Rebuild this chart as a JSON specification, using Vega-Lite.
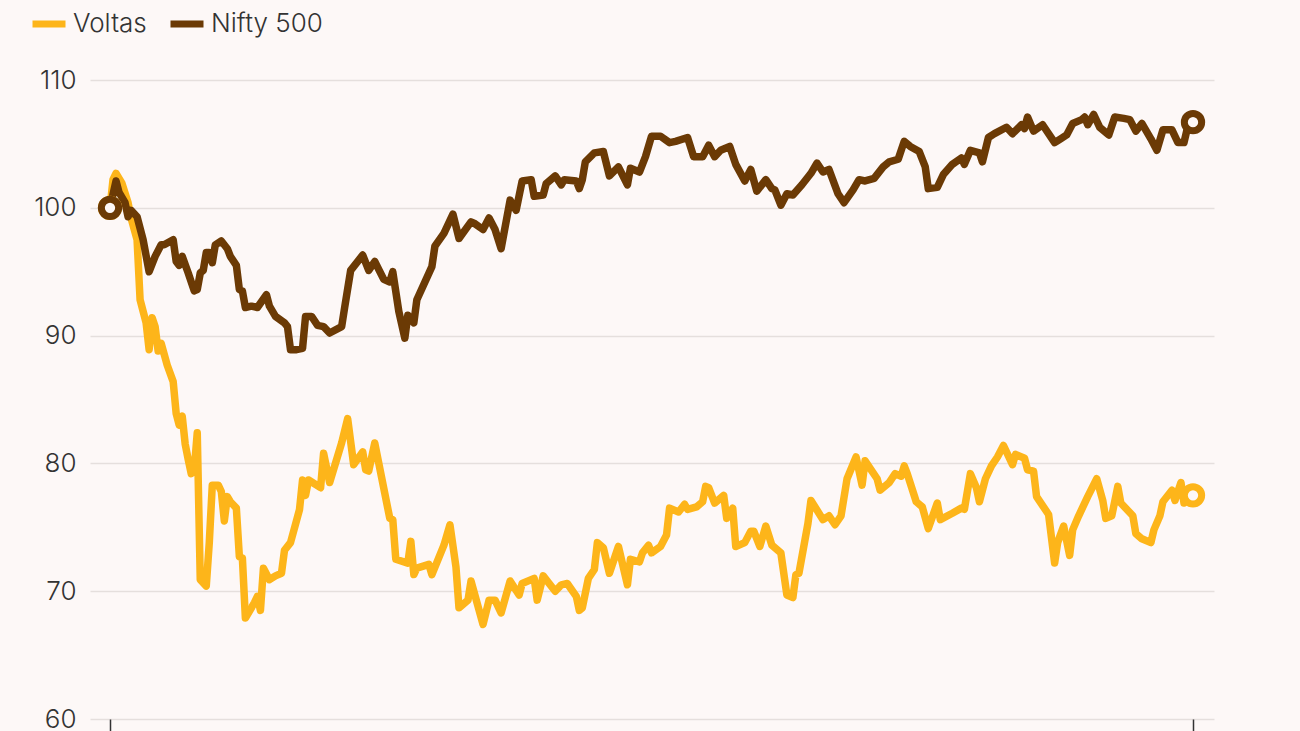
{
  "$schema": "https://vega.github.io/schema/vega-lite/v6.json",
  "autosize": "none",
  "width": 1124,
  "height": 639,
  "padding": {"left": 90, "top": 80, "right": 86, "bottom": 12},
  "background": "#fdf8f7",
  "config": {"view": {"stroke": null}, "font": "Inter"},
  "datasets": {
    "series": [
      {"series":"Voltas","day":0,"value":100},{"series":"Voltas","day":1,"value":102.2},{"series":"Voltas","day":2,"value":102.7},{"series":"Voltas","day":4,"value":101.9},{"series":"Voltas","day":6,"value":100.4},{"series":"Voltas","day":7,"value":99.2},{"series":"Voltas","day":9,"value":97.5},{"series":"Voltas","day":10,"value":92.8},{"series":"Voltas","day":12,"value":91.0},{"series":"Voltas","day":13,"value":88.9},{"series":"Voltas","day":14,"value":91.4},{"series":"Voltas","day":15,"value":90.7},{"series":"Voltas","day":16,"value":88.8},{"series":"Voltas","day":17,"value":89.4},{"series":"Voltas","day":19,"value":87.7},{"series":"Voltas","day":21,"value":86.4},{"series":"Voltas","day":22,"value":83.9},{"series":"Voltas","day":23,"value":83.0},{"series":"Voltas","day":24,"value":83.7},{"series":"Voltas","day":25,"value":81.5},{"series":"Voltas","day":26,"value":80.3},{"series":"Voltas","day":27,"value":79.2},{"series":"Voltas","day":28,"value":79.5},{"series":"Voltas","day":29,"value":82.4},{"series":"Voltas","day":30,"value":70.9},{"series":"Voltas","day":32,"value":70.4},{"series":"Voltas","day":33,"value":73.8},{"series":"Voltas","day":34,"value":78.3},{"series":"Voltas","day":36,"value":78.3},{"series":"Voltas","day":37,"value":77.8},{"series":"Voltas","day":38,"value":75.5},{"series":"Voltas","day":39,"value":77.4},{"series":"Voltas","day":40,"value":77.0},{"series":"Voltas","day":42,"value":76.5},{"series":"Voltas","day":43,"value":72.7},{"series":"Voltas","day":44,"value":72.6},{"series":"Voltas","day":45,"value":67.9},{"series":"Voltas","day":48,"value":69.1},{"series":"Voltas","day":49,"value":69.6},{"series":"Voltas","day":50,"value":68.5},{"series":"Voltas","day":51,"value":71.8},{"series":"Voltas","day":53,"value":70.9},{"series":"Voltas","day":55,"value":71.2},{"series":"Voltas","day":57,"value":71.4},{"series":"Voltas","day":58,"value":73.2},{"series":"Voltas","day":60,"value":73.8},{"series":"Voltas","day":63,"value":76.4},{"series":"Voltas","day":64,"value":78.7},{"series":"Voltas","day":65,"value":77.5},{"series":"Voltas","day":66,"value":78.7},{"series":"Voltas","day":70,"value":78.1},{"series":"Voltas","day":71,"value":80.8},{"series":"Voltas","day":73,"value":78.5},{"series":"Voltas","day":77,"value":81.6},{"series":"Voltas","day":79,"value":83.5},{"series":"Voltas","day":81,"value":79.9},{"series":"Voltas","day":84,"value":80.9},{"series":"Voltas","day":85,"value":79.5},{"series":"Voltas","day":86,"value":79.4},{"series":"Voltas","day":88,"value":81.6},{"series":"Voltas","day":93,"value":75.7},{"series":"Voltas","day":94,"value":75.6},{"series":"Voltas","day":95,"value":72.5},{"series":"Voltas","day":99,"value":72.2},{"series":"Voltas","day":100,"value":73.9},{"series":"Voltas","day":101,"value":71.3},{"series":"Voltas","day":102,"value":71.8},{"series":"Voltas","day":106,"value":72.1},{"series":"Voltas","day":107,"value":71.3},{"series":"Voltas","day":111,"value":73.6},{"series":"Voltas","day":113,"value":75.2},{"series":"Voltas","day":115,"value":71.9},{"series":"Voltas","day":116,"value":68.7},{"series":"Voltas","day":119,"value":69.3},{"series":"Voltas","day":120,"value":70.8},{"series":"Voltas","day":124,"value":67.4},{"series":"Voltas","day":126,"value":69.3},{"series":"Voltas","day":128,"value":69.3},{"series":"Voltas","day":130,"value":68.3},{"series":"Voltas","day":133,"value":70.8},{"series":"Voltas","day":136,"value":69.7},{"series":"Voltas","day":137,"value":70.6},{"series":"Voltas","day":141,"value":71.0},{"series":"Voltas","day":142,"value":69.3},{"series":"Voltas","day":144,"value":71.2},{"series":"Voltas","day":148,"value":70.0},{"series":"Voltas","day":150,"value":70.5},{"series":"Voltas","day":152,"value":70.6},{"series":"Voltas","day":155,"value":69.6},{"series":"Voltas","day":156,"value":68.5},{"series":"Voltas","day":157,"value":68.7},{"series":"Voltas","day":159,"value":71.0},{"series":"Voltas","day":161,"value":71.7},{"series":"Voltas","day":162,"value":73.8},{"series":"Voltas","day":164,"value":73.4},{"series":"Voltas","day":166,"value":71.4},{"series":"Voltas","day":169,"value":73.5},{"series":"Voltas","day":172,"value":70.5},{"series":"Voltas","day":173,"value":72.5},{"series":"Voltas","day":176,"value":72.3},{"series":"Voltas","day":177,"value":73.0},{"series":"Voltas","day":179,"value":73.6},{"series":"Voltas","day":180,"value":73.0},{"series":"Voltas","day":183,"value":73.5},{"series":"Voltas","day":185,"value":74.4},{"series":"Voltas","day":186,"value":76.5},{"series":"Voltas","day":189,"value":76.2},{"series":"Voltas","day":191,"value":76.8},{"series":"Voltas","day":192,"value":76.4},{"series":"Voltas","day":195,"value":76.6},{"series":"Voltas","day":197,"value":77.0},{"series":"Voltas","day":198,"value":78.2},{"series":"Voltas","day":199,"value":78.1},{"series":"Voltas","day":201,"value":76.9},{"series":"Voltas","day":204,"value":77.5},{"series":"Voltas","day":205,"value":75.7},{"series":"Voltas","day":207,"value":76.5},{"series":"Voltas","day":208,"value":73.5},{"series":"Voltas","day":211,"value":73.8},{"series":"Voltas","day":213,"value":74.7},{"series":"Voltas","day":214,"value":74.7},{"series":"Voltas","day":216,"value":73.5},{"series":"Voltas","day":218,"value":75.1},{"series":"Voltas","day":220,"value":73.6},{"series":"Voltas","day":223,"value":73.0},{"series":"Voltas","day":225,"value":69.7},{"series":"Voltas","day":227,"value":69.5},{"series":"Voltas","day":228,"value":71.3},{"series":"Voltas","day":229,"value":71.4},{"series":"Voltas","day":232,"value":75.3},{"series":"Voltas","day":233,"value":77.1},{"series":"Voltas","day":237,"value":75.6},{"series":"Voltas","day":239,"value":75.9},{"series":"Voltas","day":241,"value":75.2},{"series":"Voltas","day":243,"value":75.9},{"series":"Voltas","day":245,"value":78.8},{"series":"Voltas","day":248,"value":80.5},{"series":"Voltas","day":250,"value":78.3},{"series":"Voltas","day":251,"value":80.2},{"series":"Voltas","day":253,"value":79.5},{"series":"Voltas","day":255,"value":78.8},{"series":"Voltas","day":256,"value":77.9},{"series":"Voltas","day":259,"value":78.5},{"series":"Voltas","day":261,"value":79.2},{"series":"Voltas","day":263,"value":79.0},{"series":"Voltas","day":264,"value":79.8},{"series":"Voltas","day":265,"value":79.2},{"series":"Voltas","day":268,"value":77.0},{"series":"Voltas","day":270,"value":76.6},{"series":"Voltas","day":272,"value":74.9},{"series":"Voltas","day":275,"value":76.9},{"series":"Voltas","day":276,"value":75.6},{"series":"Voltas","day":280,"value":76.1},{"series":"Voltas","day":283,"value":76.5},{"series":"Voltas","day":284,"value":76.4},{"series":"Voltas","day":286,"value":79.2},{"series":"Voltas","day":288,"value":78.1},{"series":"Voltas","day":289,"value":77.0},{"series":"Voltas","day":291,"value":78.8},{"series":"Voltas","day":293,"value":79.8},{"series":"Voltas","day":295,"value":80.5},{"series":"Voltas","day":297,"value":81.4},{"series":"Voltas","day":300,"value":79.9},{"series":"Voltas","day":301,"value":80.7},{"series":"Voltas","day":304,"value":80.4},{"series":"Voltas","day":305,"value":79.5},{"series":"Voltas","day":307,"value":79.4},{"series":"Voltas","day":308,"value":77.4},{"series":"Voltas","day":312,"value":76.0},{"series":"Voltas","day":314,"value":72.2},{"series":"Voltas","day":315,"value":73.8},{"series":"Voltas","day":317,"value":75.1},{"series":"Voltas","day":319,"value":72.8},{"series":"Voltas","day":320,"value":74.8},{"series":"Voltas","day":322,"value":75.9},{"series":"Voltas","day":325,"value":77.4},{"series":"Voltas","day":328,"value":78.8},{"series":"Voltas","day":330,"value":77.1},{"series":"Voltas","day":331,"value":75.7},{"series":"Voltas","day":333,"value":75.9},{"series":"Voltas","day":335,"value":78.2},{"series":"Voltas","day":336,"value":76.9},{"series":"Voltas","day":340,"value":75.9},{"series":"Voltas","day":341,"value":74.5},{"series":"Voltas","day":343,"value":74.1},{"series":"Voltas","day":346,"value":73.8},{"series":"Voltas","day":347,"value":74.8},{"series":"Voltas","day":349,"value":75.9},{"series":"Voltas","day":350,"value":77.0},{"series":"Voltas","day":353,"value":77.9},{"series":"Voltas","day":354,"value":77.1},{"series":"Voltas","day":356,"value":78.5},{"series":"Voltas","day":357,"value":76.9},{"series":"Voltas","day":360,"value":77.5},
      {"series":"Nifty 500","day":0,"value":100},{"series":"Nifty 500","day":2,"value":102.1},{"series":"Nifty 500","day":3,"value":101.2},{"series":"Nifty 500","day":5,"value":100.4},{"series":"Nifty 500","day":6,"value":99.3},{"series":"Nifty 500","day":7,"value":99.8},{"series":"Nifty 500","day":9,"value":99.3},{"series":"Nifty 500","day":11,"value":97.5},{"series":"Nifty 500","day":13,"value":95.0},{"series":"Nifty 500","day":15,"value":96.2},{"series":"Nifty 500","day":17,"value":97.1},{"series":"Nifty 500","day":18,"value":97.1},{"series":"Nifty 500","day":21,"value":97.5},{"series":"Nifty 500","day":22,"value":95.8},{"series":"Nifty 500","day":23,"value":95.5},{"series":"Nifty 500","day":24,"value":96.2},{"series":"Nifty 500","day":26,"value":94.9},{"series":"Nifty 500","day":28,"value":93.5},{"series":"Nifty 500","day":29,"value":93.6},{"series":"Nifty 500","day":30,"value":94.9},{"series":"Nifty 500","day":31,"value":95.1},{"series":"Nifty 500","day":32,"value":96.5},{"series":"Nifty 500","day":33,"value":96.5},{"series":"Nifty 500","day":34,"value":95.7},{"series":"Nifty 500","day":35,"value":97.1},{"series":"Nifty 500","day":37,"value":97.4},{"series":"Nifty 500","day":39,"value":96.8},{"series":"Nifty 500","day":40,"value":96.2},{"series":"Nifty 500","day":42,"value":95.5},{"series":"Nifty 500","day":43,"value":93.6},{"series":"Nifty 500","day":44,"value":93.5},{"series":"Nifty 500","day":45,"value":92.2},{"series":"Nifty 500","day":47,"value":92.3},{"series":"Nifty 500","day":49,"value":92.2},{"series":"Nifty 500","day":52,"value":93.2},{"series":"Nifty 500","day":53,"value":92.3},{"series":"Nifty 500","day":55,"value":91.5},{"series":"Nifty 500","day":58,"value":91.0},{"series":"Nifty 500","day":59,"value":90.7},{"series":"Nifty 500","day":60,"value":88.9},{"series":"Nifty 500","day":62,"value":88.9},{"series":"Nifty 500","day":64,"value":89.0},{"series":"Nifty 500","day":65,"value":91.5},{"series":"Nifty 500","day":67,"value":91.5},{"series":"Nifty 500","day":69,"value":90.8},{"series":"Nifty 500","day":71,"value":90.7},{"series":"Nifty 500","day":73,"value":90.2},{"series":"Nifty 500","day":77,"value":90.7},{"series":"Nifty 500","day":78,"value":92.2},{"series":"Nifty 500","day":80,"value":95.1},{"series":"Nifty 500","day":84,"value":96.3},{"series":"Nifty 500","day":86,"value":95.1},{"series":"Nifty 500","day":88,"value":95.8},{"series":"Nifty 500","day":91,"value":94.4},{"series":"Nifty 500","day":93,"value":94.2},{"series":"Nifty 500","day":94,"value":95.0},{"series":"Nifty 500","day":96,"value":91.9},{"series":"Nifty 500","day":98,"value":89.8},{"series":"Nifty 500","day":99,"value":91.6},{"series":"Nifty 500","day":101,"value":91.0},{"series":"Nifty 500","day":102,"value":92.8},{"series":"Nifty 500","day":107,"value":95.4},{"series":"Nifty 500","day":108,"value":97.0},{"series":"Nifty 500","day":111,"value":98.0},{"series":"Nifty 500","day":114,"value":99.5},{"series":"Nifty 500","day":116,"value":97.6},{"series":"Nifty 500","day":120,"value":98.9},{"series":"Nifty 500","day":121,"value":98.8},{"series":"Nifty 500","day":124,"value":98.3},{"series":"Nifty 500","day":126,"value":99.2},{"series":"Nifty 500","day":128,"value":98.3},{"series":"Nifty 500","day":130,"value":96.8},{"series":"Nifty 500","day":133,"value":100.6},{"series":"Nifty 500","day":135,"value":99.8},{"series":"Nifty 500","day":137,"value":102.1},{"series":"Nifty 500","day":140,"value":102.2},{"series":"Nifty 500","day":141,"value":100.9},{"series":"Nifty 500","day":144,"value":101.0},{"series":"Nifty 500","day":145,"value":101.9},{"series":"Nifty 500","day":148,"value":102.5},{"series":"Nifty 500","day":150,"value":101.8},{"series":"Nifty 500","day":151,"value":102.2},{"series":"Nifty 500","day":155,"value":102.1},{"series":"Nifty 500","day":156,"value":101.5},{"series":"Nifty 500","day":157,"value":102.2},{"series":"Nifty 500","day":158,"value":103.6},{"series":"Nifty 500","day":161,"value":104.3},{"series":"Nifty 500","day":164,"value":104.4},{"series":"Nifty 500","day":166,"value":102.5},{"series":"Nifty 500","day":169,"value":103.2},{"series":"Nifty 500","day":172,"value":101.8},{"series":"Nifty 500","day":173,"value":103.1},{"series":"Nifty 500","day":176,"value":102.8},{"series":"Nifty 500","day":178,"value":104.0},{"series":"Nifty 500","day":180,"value":105.6},{"series":"Nifty 500","day":183,"value":105.6},{"series":"Nifty 500","day":186,"value":105.1},{"series":"Nifty 500","day":188,"value":105.2},{"series":"Nifty 500","day":192,"value":105.5},{"series":"Nifty 500","day":194,"value":104.0},{"series":"Nifty 500","day":197,"value":104.0},{"series":"Nifty 500","day":199,"value":104.9},{"series":"Nifty 500","day":201,"value":104.0},{"series":"Nifty 500","day":203,"value":104.5},{"series":"Nifty 500","day":206,"value":104.8},{"series":"Nifty 500","day":208,"value":103.4},{"series":"Nifty 500","day":211,"value":102.1},{"series":"Nifty 500","day":213,"value":103.0},{"series":"Nifty 500","day":215,"value":101.3},{"series":"Nifty 500","day":218,"value":102.2},{"series":"Nifty 500","day":220,"value":101.5},{"series":"Nifty 500","day":221,"value":101.4},{"series":"Nifty 500","day":223,"value":100.2},{"series":"Nifty 500","day":225,"value":101.1},{"series":"Nifty 500","day":227,"value":101.0},{"series":"Nifty 500","day":230,"value":101.8},{"series":"Nifty 500","day":233,"value":102.7},{"series":"Nifty 500","day":235,"value":103.5},{"series":"Nifty 500","day":237,"value":102.8},{"series":"Nifty 500","day":239,"value":103.0},{"series":"Nifty 500","day":242,"value":101.1},{"series":"Nifty 500","day":244,"value":100.4},{"series":"Nifty 500","day":247,"value":101.4},{"series":"Nifty 500","day":249,"value":102.2},{"series":"Nifty 500","day":251,"value":102.1},{"series":"Nifty 500","day":254,"value":102.3},{"series":"Nifty 500","day":257,"value":103.2},{"series":"Nifty 500","day":259,"value":103.6},{"series":"Nifty 500","day":262,"value":103.8},{"series":"Nifty 500","day":264,"value":105.2},{"series":"Nifty 500","day":266,"value":104.8},{"series":"Nifty 500","day":269,"value":104.4},{"series":"Nifty 500","day":271,"value":103.2},{"series":"Nifty 500","day":272,"value":101.5},{"series":"Nifty 500","day":275,"value":101.6},{"series":"Nifty 500","day":277,"value":102.6},{"series":"Nifty 500","day":280,"value":103.4},{"series":"Nifty 500","day":283,"value":103.9},{"series":"Nifty 500","day":284,"value":103.4},{"series":"Nifty 500","day":286,"value":104.5},{"series":"Nifty 500","day":289,"value":104.3},{"series":"Nifty 500","day":290,"value":103.6},{"series":"Nifty 500","day":292,"value":105.5},{"series":"Nifty 500","day":294,"value":105.8},{"series":"Nifty 500","day":298,"value":106.3},{"series":"Nifty 500","day":300,"value":105.8},{"series":"Nifty 500","day":303,"value":106.5},{"series":"Nifty 500","day":304,"value":106.2},{"series":"Nifty 500","day":305,"value":107.1},{"series":"Nifty 500","day":307,"value":106.0},{"series":"Nifty 500","day":310,"value":106.5},{"series":"Nifty 500","day":314,"value":105.1},{"series":"Nifty 500","day":316,"value":105.4},{"series":"Nifty 500","day":318,"value":105.7},{"series":"Nifty 500","day":320,"value":106.6},{"series":"Nifty 500","day":323,"value":106.9},{"series":"Nifty 500","day":324,"value":107.1},{"series":"Nifty 500","day":325,"value":106.5},{"series":"Nifty 500","day":327,"value":107.3},{"series":"Nifty 500","day":329,"value":106.3},{"series":"Nifty 500","day":332,"value":105.7},{"series":"Nifty 500","day":334,"value":107.1},{"series":"Nifty 500","day":337,"value":107.0},{"series":"Nifty 500","day":339,"value":106.9},{"series":"Nifty 500","day":341,"value":106.0},{"series":"Nifty 500","day":343,"value":106.6},{"series":"Nifty 500","day":346,"value":105.4},{"series":"Nifty 500","day":348,"value":104.5},{"series":"Nifty 500","day":350,"value":106.1},{"series":"Nifty 500","day":353,"value":106.1},{"series":"Nifty 500","day":355,"value":105.1},{"series":"Nifty 500","day":357,"value":105.1},{"series":"Nifty 500","day":358,"value":106.1},{"series":"Nifty 500","day":360,"value":106.7}
    ]
  },
  "data": {"name": "series"},
  "encoding": {
    "x": {
      "field": "day", "type": "quantitative",
      "scale": {"domain": [-6.65, 366.98], "nice": false, "zero": false},
      "axis": {"values": [0, 360], "labels": false, "ticks": true, "tickSize": 16, "tickColor": "#333333", "tickWidth": 1.5, "domain": false, "grid": false, "title": null}
    },
    "y": {
      "field": "value", "type": "quantitative",
      "scale": {"domain": [60, 110], "nice": false, "zero": false},
      "axis": {"values": [60, 70, 80, 90, 100, 110], "title": null, "domain": false, "ticks": false, "labelPadding": 14, "labelFontSize": 26, "labelFontWeight": 300, "labelColor": "#333333", "labelFont": "Inter", "gridColor": "#e5dfdd", "gridWidth": 1.5}
    },
    "color": {
      "field": "series", "type": "nominal",
      "scale": {"domain": ["Voltas", "Nifty 500"], "range": ["#fdb51a", "#6b3a05"]},
      "legend": {"orient": "none", "legendX": -61, "legendY": -76, "direction": "horizontal", "title": null, "symbolType": "stroke", "symbolSize": 1089, "symbolStrokeWidth": 7, "labelFontSize": 26, "labelFontWeight": 300, "labelColor": "#333333", "labelFont": "Inter", "labelOffset": 4, "columnPadding": 9, "padding": 0}
    }
  },
  "layer": [
    {"mark": {"type": "line", "strokeWidth": 7.5, "strokeCap": "round", "strokeJoin": "round"}},
    {"transform": [{"filter": "datum.day == 0 || datum.day == 360"}],
     "mark": {"type": "point", "shape": "circle", "size": 300, "filled": false, "fill": "#fdf8f7", "fillOpacity": 1, "strokeWidth": 7, "opacity": 1}}
  ]
}
